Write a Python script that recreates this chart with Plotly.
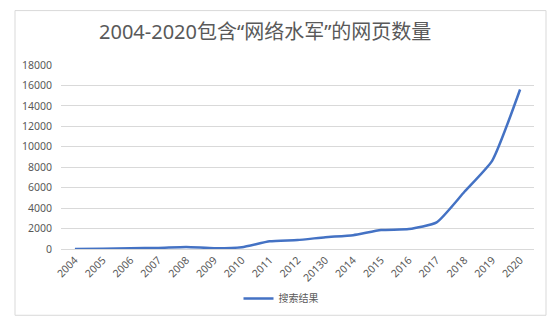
import plotly.graph_objects as go

years = ["2004", "2005", "2006", "2007", "2008", "2009", "2010", "2011", "2012",
         "20130", "2014", "2015", "2016", "2017", "2018", "2019", "2020"]
results = [0, 20, 80, 100, 200, 80, 180, 760, 880, 1150, 1350, 1850, 1950,
           2600, 5600, 8650, 15600]
series_name = "搜索结果"
title_text = "2004-2020包含“网络水军”的网页数量"
y_ticks = list(range(0, 18001, 2000))

W, H = 550, 325
ML, MR, MT, MB = 61, 16, 65, 74
PW, PH = W - ML - MR, H - MT - MB


def px_x(px):
    return (px - ML) / PW


def px_y(py):
    return (H - MB - py) / PH


FONT = "Noto Sans, Noto Sans CJK SC, sans-serif"
GRAY = "#595959"

fig = go.Figure()
fig.add_trace(go.Scatter(
    x=years, y=results, mode="lines", name=series_name,
    line=dict(color="#4472C4", width=2.5, shape="spline", smoothing=0.5),
))

fig.update_layout(
    width=W, height=H,
    margin=dict(l=ML, r=MR, t=MT, b=MB),
    paper_bgcolor="white", plot_bgcolor="white",
    font=dict(family=FONT, color=GRAY, size=10),
    showlegend=True,
    legend=dict(orientation="h", x=px_x(281), y=px_y(301),
                xanchor="center", yanchor="middle",
                font=dict(size=10, color=GRAY, family=FONT)),
    xaxis=dict(type="category", range=[-0.5, len(years) - 0.5],
               tickangle=-45, showgrid=False, showline=True,
               linecolor="#D9D9D9", linewidth=1, ticks="",
               tickfont=dict(size=10.5, color=GRAY, family=FONT)),
    yaxis=dict(range=[0, 18000], tickvals=y_ticks,
               ticktext=[str(v) for v in y_ticks],
               showgrid=True, gridcolor="#D9D9D9", gridwidth=1,
               zeroline=False, showline=False, ticks="",
               ticklabelstandoff=8,
               tickfont=dict(size=10.5, color=GRAY, family=FONT)),
    annotations=[dict(text=title_text, xref="paper", yref="paper",
                      x=px_x(265), y=px_y(31), xanchor="center",
                      yanchor="middle", showarrow=False,
                      font=dict(size=20, color=GRAY, family=FONT))],
    shapes=[dict(type="rect", xref="paper", yref="paper",
                 x0=px_x(15), x1=px_x(546), y0=px_y(318), y1=px_y(10),
                 line=dict(color="#D9D9D9", width=1), layer="below")],
)

fig.write_html("out.html")
